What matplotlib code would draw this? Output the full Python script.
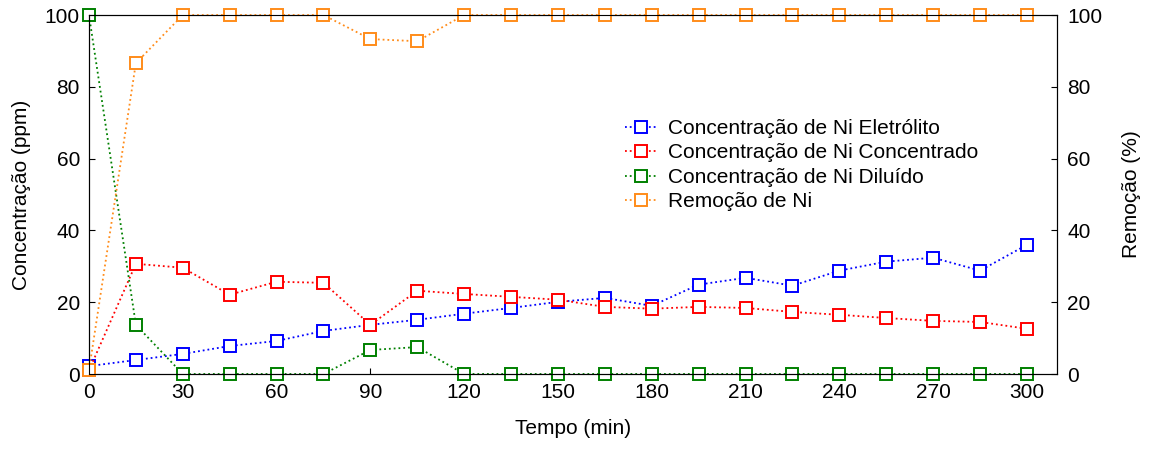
import matplotlib
matplotlib.use('Agg')

import matplotlib.pyplot as plt

plt.rcParams['font.family'] = ['Liberation Sans', 'DejaVu Sans']

# tempo de coleta (min)
tempo = [0, 15, 30, 45, 60, 75, 90, 105, 120, 135, 150, 165, 180, 195, 210,
         225, 240, 255, 270, 285, 300]

# concentrações (ppm)
ni_eletrolito = [2.2, 3.9, 5.6, 7.8, 9.2, 12.0, 13.7, 15.1, 16.8, 18.4, 20.1,
                 21.2, 19.0, 24.9, 26.8, 24.6, 28.8, 31.3, 32.4, 28.8, 36.0]
ni_concentrado = [1.0, 30.7, 29.6, 22.1, 25.7, 25.4, 13.7, 23.2, 22.3, 21.5, 20.7,
                  18.7, 18.2, 18.7, 18.4, 17.3, 16.5, 15.6, 14.8, 14.5, 12.6]
ni_diluido = [100, 13.7, 0, 0, 0, 0, 6.7, 7.5, 0, 0, 0,
              0, 0, 0, 0, 0, 0, 0, 0, 0, 0]

# remoção (%)
remocao = [1.0, 86.6, 100, 100, 100, 100, 93.3, 92.7, 100, 100, 100,
           100, 100, 100, 100, 100, 100, 100, 100, 100, 100]

fs = 15

fig = plt.figure(figsize=(11.51, 4.51), dpi=100)
ax = fig.add_axes([0.0773, 0.1707, 0.8410, 0.7960])
ax2 = ax.twinx()

estilo = dict(linestyle=':', linewidth=1.3, marker='s', markersize=8.5,
              markerfacecolor='white', markeredgewidth=1.4, clip_on=False)

l1, = ax.plot(tempo, ni_eletrolito, color='#0000ff', label='Concentração de Ni Eletrólito', **estilo)
l2, = ax.plot(tempo, ni_concentrado, color='#ff0000', label='Concentração de Ni Concentrado', **estilo)
l3, = ax.plot(tempo, ni_diluido, color='#008000', label='Concentração de Ni Diluído', **estilo)
l4, = ax2.plot(tempo, remocao, color='#ff8c1a', label='Remoção de Ni', **estilo)

ax.set_xlim(0, 309.6)
ax.set_ylim(0, 100)
ax2.set_ylim(0, 100)
ax.set_xticks(range(0, 301, 30))
ax.set_yticks(range(0, 101, 20))
ax2.set_yticks(range(0, 101, 20))

ax.tick_params(direction='in', labelsize=fs, length=4, pad=6.5, top=False)
ax2.tick_params(direction='in', labelsize=fs, length=4, pad=7.5)

ax.set_xlabel('Tempo (min)', fontsize=fs, labelpad=12)
ax.set_ylabel('Concentração (ppm)', fontsize=fs, labelpad=10)
ax2.set_ylabel('Remoção (%)', fontsize=fs, labelpad=14)

ax.legend(handles=[l1, l2, l3, l4], loc='upper left',
          bbox_to_anchor=(625 / 1151, 1 - 119 / 451), bbox_transform=fig.transFigure,
          frameon=False, fontsize=fs, handlelength=1.5, handletextpad=0.55,
          labelspacing=0.26, borderpad=0, borderaxespad=0)

plt.savefig('out.png', dpi=100)
